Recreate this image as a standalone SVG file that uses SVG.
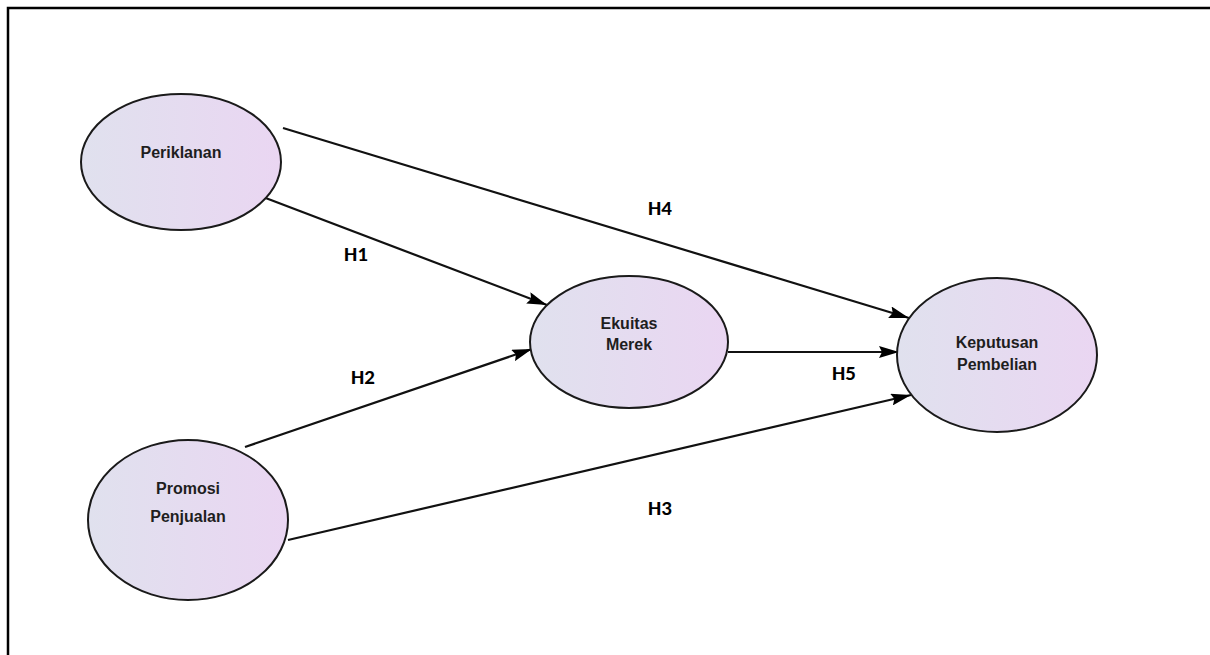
<svg xmlns="http://www.w3.org/2000/svg" width="1210" height="655" viewBox="0 0 1210 655">
  <style>
    .frame { stroke: #000; stroke-width: 2.5; fill: none; }
    .node ellipse { fill: url(#nodeFill); stroke: #1a1a1a; stroke-width: 2; }
    .node text { font-family: "Liberation Sans Narrow", "Liberation Sans", Arial, sans-serif; font-weight: bold; font-size: 16px; fill: #1e1e1e; text-anchor: middle; }
    .edge { stroke: #111; stroke-width: 2.2; fill: none; marker-end: url(#arrow); }
    .label { font-family: "Carlito", "Liberation Sans", Arial, sans-serif; font-weight: bold; font-size: 21px; fill: #000; text-anchor: middle; }
  </style>
  <defs>
    <linearGradient id="nodeFill" x1="0" y1="0" x2="1" y2="0">
      <stop offset="0" stop-color="#e0e1ee"/>
      <stop offset="1" stop-color="#ead6f2"/>
    </linearGradient>
    <marker id="arrow" viewBox="0 0 20 12" refX="20" refY="6" markerWidth="20" markerHeight="12" markerUnits="userSpaceOnUse" orient="auto">
      <path d="M0,0 L20,6 L0,12 L3,6 Z" fill="#000"/>
    </marker>
  </defs>

  <rect width="1210" height="655" fill="#fff"/>
  <!-- page frame: top and left rules -->
  <path class="frame" d="M8,655 L8,8 L1210,8"/>

  <g id="connectors">
    <line class="edge" x1="283" y1="128" x2="909" y2="318"/>
    <line class="edge" x1="263" y1="197" x2="547" y2="305"/>
    <line class="edge" x1="245" y1="447" x2="532" y2="349"/>
    <line class="edge" x1="288" y1="540" x2="911" y2="395"/>
    <line class="edge" x1="728" y1="352" x2="899" y2="352"/>
  </g>

  <g id="labels">
    <text class="label" x="660" y="215">H4</text>
    <text class="label" x="356" y="261">H1</text>
    <text class="label" x="363" y="384">H2</text>
    <text class="label" x="844" y="380">H5</text>
    <text class="label" x="660" y="515">H3</text>
  </g>

  <g id="periklanan" class="node">
    <ellipse cx="181" cy="162" rx="100" ry="68"/>
    <text x="181" y="158">Periklanan</text>
  </g>

  <g id="ekuitas-merek" class="node">
    <ellipse cx="629" cy="342" rx="99" ry="66"/>
    <text x="629" y="329">Ekuitas</text>
    <text x="629" y="350">Merek</text>
  </g>

  <g id="keputusan-pembelian" class="node">
    <ellipse cx="997" cy="355" rx="100" ry="77"/>
    <text x="997" y="348">Keputusan</text>
    <text x="997" y="370">Pembelian</text>
  </g>

  <g id="promosi-penjualan" class="node">
    <ellipse cx="188" cy="520" rx="100" ry="80"/>
    <text x="188" y="494">Promosi</text>
    <text x="188" y="522">Penjualan</text>
  </g>
</svg>
